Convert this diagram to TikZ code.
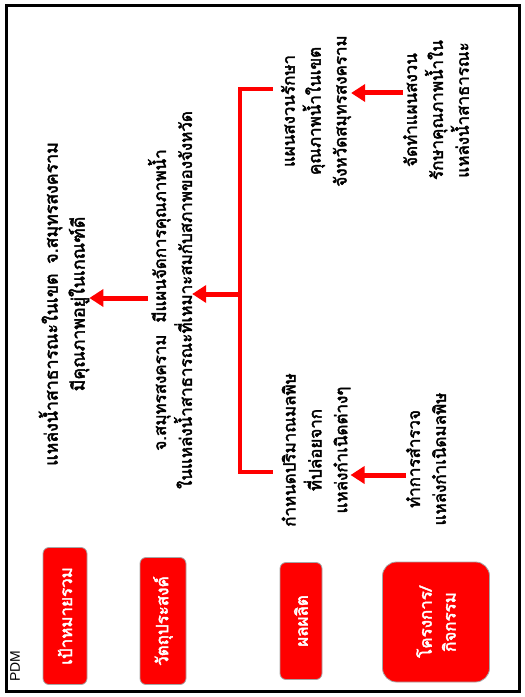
\documentclass[tikz,border=0pt]{standalone}
\usepackage{fontspec}
\newfontfamily\thai[Script=Thai,AutoFakeBold=2.5]{Loma}
\setsansfont{Liberation Sans}
\usetikzlibrary{arrows.meta,calc}
\tikzset{
  lbl/.style={rotate=90, fill=red, draw=black!35, line width=0.8bp, rounded corners=6bp,
    text=white, font=\thai\bfseries\fontsize{17}{24}\selectfont, inner sep=0pt, align=center},
  txt/.style={rotate=90, align=center, font=\thai\bfseries\fontsize{17}{26}\selectfont, inner sep=0pt},
  arr/.style={red, line width=5bp, -{Triangle[length=14bp,width=17bp]}},
  brk/.style={red, line width=4bp}
}
\begin{document}
\begin{tikzpicture}[x=1bp,y=-1bp]
\useasboundingbox (0,0) rectangle (525,697);
\fill[white] (0,0) rectangle (525,697);
\draw[black, line width=3bp] (6,6) rectangle (519,691);
\node[rotate=90, font=\sffamily\fontsize{14}{14}\selectfont, inner sep=0pt] (pdm) at (15,666) {PDM};
% labels
\node[lbl, minimum width=137bp, minimum height=44bp] (goalL) at (65,616) {เป้าหมายรวม};
\node[lbl, minimum width=127bp, minimum height=46bp] (objL) at (163,621) {วัตถุประสงค์};
\node[lbl, minimum width=117bp, minimum height=42bp] (outL) at (301,621) {ผลผลิต};
\node[lbl, minimum width=120bp, minimum height=107bp, rounded corners=14bp] (actL) at (436,622) {โครงการ/\\กิจกรรม};
% texts
\node[txt, font=\thai\bfseries\fontsize{17.8}{27}\selectfont] (goal) at (64,304) {แหล่งน้ำสาธารณะในเขต\hspace{0.55em}จ.สมุทรสงคราม\\มีคุณภาพอยู่ในเกณฑ์ดี};
\node[txt] (obj) at (170,300) {จ.สมุทรสงคราม\hspace{0.7em}มีแผนจัดการคุณภาพน้ำ\\ในแหล่งน้ำสาธารณะที่เหมาะสมกับสภาพของจังหวัด};
\node[txt] (out1) at (316,450) {กำหนดปริมาณมลพิษ\\ที่ปล่อยจาก\\แหล่งกำเนิดต่างๆ};
\node[txt] (out2) at (316,111) {แผนสงวนรักษา\\คุณภาพน้ำในเขต\\จังหวัดสมุทรสงคราม};
\node[txt] (act1) at (426,459) {ทำการสำรวจ\\แหล่งกำเนิดมลพิษ};
\node[txt] (act2) at (436,110) {จัดทำแผนสงวน\\รักษาคุณภาพน้ำใน\\แหล่งน้ำสาธารณะ};
% rows
\coordinate (r1) at (0,298);
\coordinate (r2) at (0,294);
\coordinate (bt) at (240,89);
\coordinate (bb) at (240,472);
\coordinate (ra2) at (0,93);
\coordinate (ra1) at (0,475);
% connectors
\draw[arr] (obj.north |- r1) -- (goal.south |- r1);
\draw[brk] ([xshift=-8bp]out2.north |- bt) -- (bt) -- (bb) -- ([xshift=-8bp]out1.north |- bb);
\draw[arr] (bt |- r2) -- (obj.south |- r2);
\draw[arr] (act2.north |- ra2) -- (out2.south |- ra2);
\draw[arr] (act1.north |- ra1) -- (out1.south |- ra1);
\end{tikzpicture}
\end{document}
